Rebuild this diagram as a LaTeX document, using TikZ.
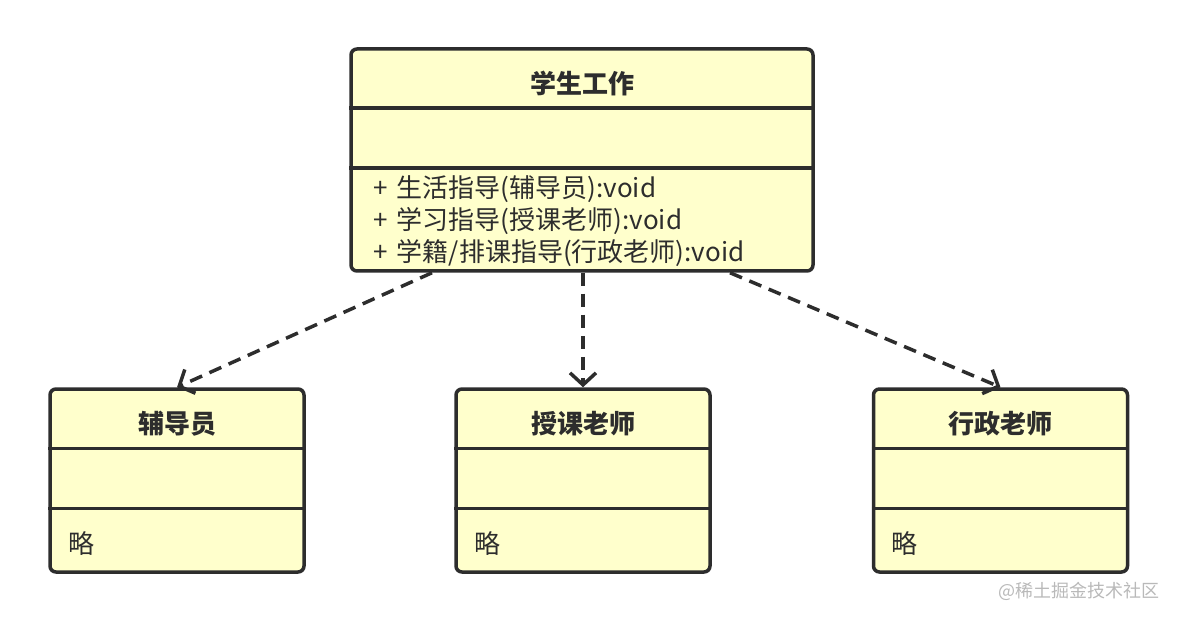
\documentclass[tikz,border=0pt]{standalone}
\usepackage{fontspec}
\setmainfont{Noto Sans CJK SC}
\usetikzlibrary{positioning}
\usetikzlibrary{calc}
\usetikzlibrary{arrows.meta}
\definecolor{umlfill}{RGB}{255,255,204}
\definecolor{umlline}{RGB}{45,45,45}
\definecolor{markgray}{RGB}{185,185,185}

\begin{document}
\begin{tikzpicture}[x=1pt, y=-1pt,
    every node/.style={font=\fontsize{26}{32}\selectfont, text=umlline, inner sep=0pt},
    umlbox/.style={draw=umlline, fill=umlfill, line width=3.5pt, rounded corners=6pt},
    classtitle/.style={font=\bfseries\fontsize{26}{32}\selectfont},
    divider/.style={draw=umlline, line width=3.5pt},
    dep/.style={draw=umlline, line width=3.5pt, dash pattern=on 13pt off 8pt,
        -{Straight Barb[length=12pt,width=26pt]}}]
    \useasboundingbox (0,0) rectangle (1178,620);

    % main class
    \node[umlbox, minimum width=462pt, minimum height=222pt] (work) at (582,160) {};
    \node[classtitle] (worktitle) at ($(work.north)+(0,36)$) {学生工作};
    \draw[divider] ($(work.north west)+(0,61)$) -- ($(work.north east)+(0,61)$);
    \draw[divider] ($(work.north west)+(0,121)$) -- ($(work.north east)+(0,121)$);
    \node[anchor=west, align=left] (workops) at ($(work.north west)+(24,174)$)
        {+\hspace{9pt}生活指导(辅导员):void\\+\hspace{9pt}学习指导(授课老师):void\\+\hspace{9pt}学籍/排课指导(行政老师):void};

    % teacher classes
    \foreach \cls/\x/\name in {fdy/177/辅导员, skls/583/授课老师, xzls/1000.5/行政老师} {
        \node[umlbox, minimum width=254pt, minimum height=183pt] (\cls) at (\x,480.5) {};
        \node[classtitle] (\cls title) at ($(\cls.north)+(0,36)$) {\name};
        \draw[divider] ($(\cls.north west)+(0,61)$) -- ($(\cls.north east)+(0,61)$);
        \draw[divider] ($(\cls.north west)+(0,121)$) -- ($(\cls.north east)+(0,121)$);
        \node[anchor=west] (\cls ops) at ($(\cls.north west)+(20,156)$) {略};
    }

    % dependencies
    \coordinate (out1) at ($(work.south)+(-150,0)$);
    \coordinate (out2) at ($(work.south)+(1,0)$);
    \coordinate (out3) at ($(work.south)+(148,0)$);
    \draw[dep] (out1) -- (fdy.north);
    \draw[dep] (out2) -- (skls.north);
    \draw[dep] (out3) -- (xzls.north);

    \node[font=\fontsize{18}{18}\selectfont, text=markgray, anchor=east] (mark) at (1160,591) {@稀土掘金技术社区};
\end{tikzpicture}
\end{document}
